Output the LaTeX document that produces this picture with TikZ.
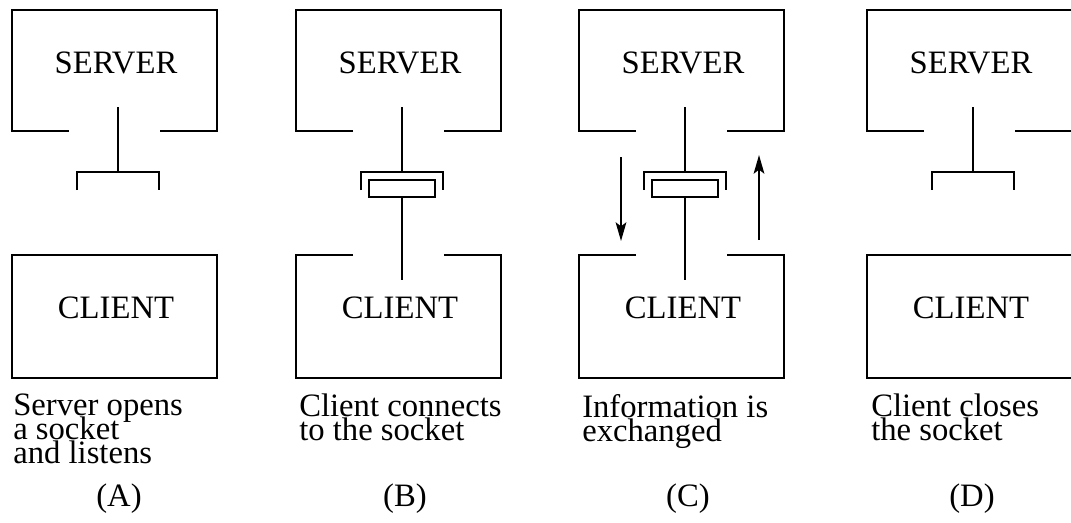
\documentclass[tikz,border=0pt]{standalone}
\usepackage{fontspec}
\setmainfont{Liberation Serif}
\usetikzlibrary{arrows.meta}
% fixed line pitch for the stacked captions
\newcommand{\captionfont}{\fontsize{24.5}{18}\selectfont
  \lineskiplimit=-30pt\relax\lineskip=0pt\relax}
\tikzset{
  wire/.style={line width=1.5pt},
  boxlabel/.style={font=\fontsize{24.5}{18}\selectfont, inner sep=0pt},
  caption/.style={font=\captionfont, align=left,
                  inner sep=0pt, anchor=north west},
  tag/.style={font=\fontsize{24.5}{18}\selectfont, inner sep=0pt, anchor=base},
  plug/.style={draw, line width=1.5pt, minimum width=50pt,
               minimum height=12.75pt, inner sep=0pt},
  flow/.style={wire, -{Stealth[length=14pt, width=8pt, inset=3pt]}},
}

\begin{document}
\begin{tikzpicture}[x=0.75pt, y=-0.75pt]
  \useasboundingbox (0,0) rectangle (1071,522);

  % (A) socket open, nothing attached
  \begin{scope}[shift={(12,0)}]
    \draw[wire] (57,131) -| (0,10) -| (205,131) -- (148,131);
    \node[boxlabel] (srvA) at (104,63) {SERVER};
    \coordinate (tipA) at (106,107);
    \coordinate (sockA) at (106,172);
    \draw[wire] (tipA) -- (sockA);
    \draw[wire] (65,190) |- (sockA) -| (147,190);
    \draw[wire] (0,255) rectangle (205,378);
    \node[boxlabel] (cliA) at (104,308) {CLIENT};
    \node[caption] (capA) at (1,394) {Server opens\\a socket\\and listens};
    \node[tag] (tagA) at (107,506) {(A)};
  \end{scope}

  % (B) client plugged in
  \begin{scope}[shift={(296,0)}]
    \draw[wire] (57,131) -| (0,10) -| (205,131) -- (148,131);
    \node[boxlabel] (srvB) at (104,63) {SERVER};
    \coordinate (tipB) at (106,107);
    \coordinate (sockB) at (106,172);
    \draw[wire] (tipB) -- (sockB);
    \draw[wire] (65,190) |- (sockB) -| (147,190);
    \node[plug] (plugB) at (106,188.5) {};
    \coordinate (tailB) at (106,280);
    \draw[wire] (plugB.south) -- (tailB);
    \draw[wire] (57,255) -| (0,378) -| (205,255) -- (148,255);
    \node[boxlabel] (cliB) at (104,308) {CLIENT};
    \node[caption] (capB) at (3,394) {Client connects\\to the socket};
    \node[tag] (tagB) at (109,506) {(B)};
  \end{scope}

  % (C) data going both ways
  \begin{scope}[shift={(579,0)}]
    \draw[wire] (57,131) -| (0,10) -| (205,131) -- (148,131);
    \node[boxlabel] (srvC) at (104,63) {SERVER};
    \coordinate (tipC) at (106,107);
    \coordinate (sockC) at (106,172);
    \draw[wire] (tipC) -- (sockC);
    \draw[wire] (65,190) |- (sockC) -| (147,190);
    \node[plug] (plugC) at (106,188.5) {};
    \coordinate (tailC) at (106,280);
    \draw[wire] (plugC.south) -- (tailC);
    \coordinate (downC) at (42,157);
    \coordinate (downCend) at (42,241);
    \draw[flow] (downC) -- (downCend);
    \coordinate (upC) at (180,240);
    \coordinate (upCend) at (180,155);
    \draw[flow] (upC) -- (upCend);
    \draw[wire] (57,255) -| (0,378) -| (205,255) -- (148,255);
    \node[boxlabel] (cliC) at (104,308) {CLIENT};
    \node[caption] (capC) at (3,394) {Information is\\exchanged};
    \node[tag] (tagC) at (109,506) {(C)};
  \end{scope}

  % (D) client gone again
  \begin{scope}[shift={(867,0)}]
    \draw[wire] (57,131) -| (0,10) -| (205,131) -- (148,131);
    \node[boxlabel] (srvD) at (104,63) {SERVER};
    \coordinate (tipD) at (106,107);
    \coordinate (sockD) at (106,172);
    \draw[wire] (tipD) -- (sockD);
    \draw[wire] (65,190) |- (sockD) -| (147,190);
    \draw[wire] (0,255) rectangle (205,378);
    \node[boxlabel] (cliD) at (104,308) {CLIENT};
    \node[caption] (capD) at (4,394) {Client closes\\the socket};
    \node[tag] (tagD) at (105,506) {(D)};
  \end{scope}
\end{tikzpicture}
\end{document}
